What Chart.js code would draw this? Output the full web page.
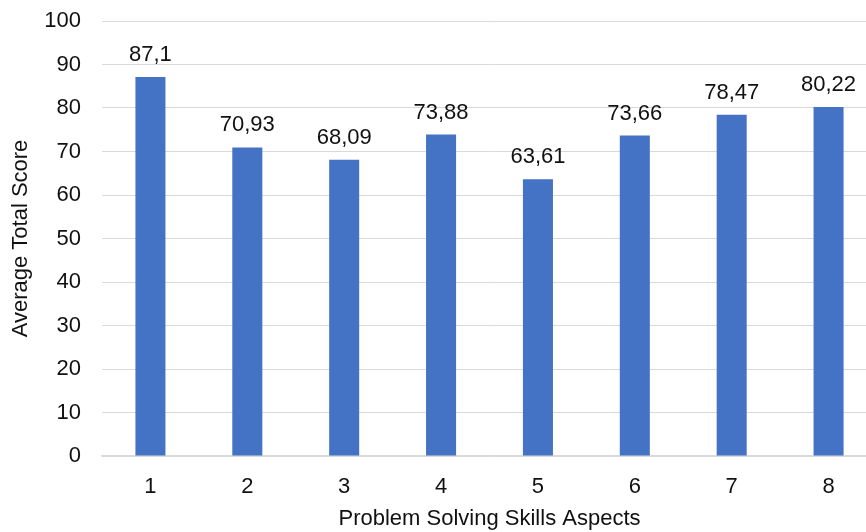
<!DOCTYPE html>
<html>
<head>
<meta charset="utf-8">
<script src="https://cdn.jsdelivr.net/npm/chart.js@4/dist/chart.umd.min.js"></script>
<style>
  html, body { margin: 0; padding: 0; background: #fff; overflow: hidden; }
  #wrap { position: relative; width: 877px; height: 532px; }
</style>
</head>
<body>
<div id="wrap"><canvas id="c"></canvas></div>
<script>
// Problem solving skills: average total score per aspect
const aspects = ['1', '2', '3', '4', '5', '6', '7', '8'];
const averageScores = [87.1, 70.93, 68.09, 73.88, 63.61, 73.66, 78.47, 80.22];
const yTicks = [0, 10, 20, 30, 40, 50, 60, 70, 80, 90, 100];

const FONT = '"Liberation Sans", Arial, sans-serif';
const TEXT = '#111111';
const SIZE = 22;

// Writes each bar's value above it, with a decimal comma
const valueLabels = {
  id: 'valueLabels',
  afterDatasetsDraw(chart) {
    const ctx = chart.ctx;
    const meta = chart.getDatasetMeta(0);
    ctx.save();
    ctx.font = SIZE + 'px ' + FONT;
    ctx.fillStyle = TEXT;
    ctx.textAlign = 'center';
    ctx.textBaseline = 'alphabetic';
    meta.data.forEach((bar, i) => {
      const txt = String(averageScores[i]).replace('.', ',');
      ctx.fillText(txt, bar.x, bar.y - 16);
    });
    ctx.restore();
  }
};

new Chart(document.getElementById('c'), {
  type: 'bar',
  data: {
    labels: aspects,
    datasets: [{
      data: averageScores,
      backgroundColor: '#4472C4',
      borderWidth: 0,
      categoryPercentage: 1,
      barPercentage: 0.31
    }]
  },
  options: {
    responsive: true,
    maintainAspectRatio: false,
    animation: false,
    layout: { padding: 0 },
    plugins: { legend: { display: false }, tooltip: { enabled: false } },
    scales: {
      x: {
        grid: { display: false, drawTicks: false },
        border: { color: '#d9d9d9', width: 1.5 },
        ticks: { color: TEXT, font: { family: FONT, size: SIZE }, padding: 18 },
        title: {
          display: true,
          text: 'Problem Solving Skills Aspects',
          color: TEXT,
          font: { family: FONT, size: SIZE },
          padding: { top: 2, bottom: 0 }
        },
        afterFit(scale) {
          scale.height = 76;
          scale.paddingLeft = 0;
          scale.paddingRight = 0;
        }
      },
      y: {
        min: 0,
        max: 100,
        afterBuildTicks(scale) { scale.ticks = yTicks.map(v => ({ value: v })); },
        grid: { color: '#d9d9d9', lineWidth: 1, drawTicks: false },
        border: { display: false },
        ticks: { color: TEXT, font: { family: FONT, size: SIZE }, padding: 21 },
        title: {
          display: true,
          text: 'Average Total Score',
          color: TEXT,
          font: { family: FONT, size: SIZE },
          padding: { top: 8, bottom: 0 }
        },
        afterFit(scale) {
          scale.width = 102;
          scale.paddingTop = 21;
          scale.paddingBottom = 0;
        }
      }
    }
  },
  plugins: [valueLabels]
});
</script>
</body>
</html>
